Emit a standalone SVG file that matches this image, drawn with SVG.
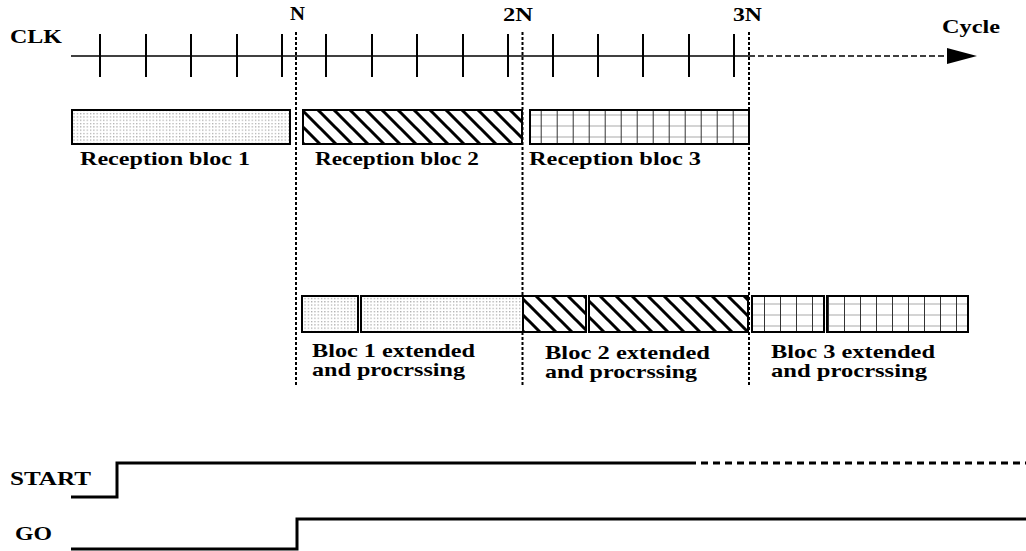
<svg xmlns="http://www.w3.org/2000/svg" width="1026" height="551" viewBox="0 0 1026 551">
<style>
text{font-family:"Liberation Serif","Times New Roman",serif;font-weight:bold;font-size:19px;fill:#000}
.box{stroke:#000;stroke-width:2}
.tick{stroke:#000;stroke-width:2}
.vdash{stroke:#000;stroke-width:2;stroke-dasharray:3 2;fill:none}
.sig{stroke:#000;stroke-width:3;fill:none}
</style>
<defs>
<pattern id="dots" patternUnits="userSpaceOnUse" width="3.3" height="3.3">
<rect width="3.3" height="3.3" fill="#fff"/>
<rect x="1" y="1" width="1" height="1" fill="#777"/>
</pattern>
<pattern id="hatch" patternUnits="userSpaceOnUse" width="16" height="16">
<rect width="16" height="16" fill="#fff"/>
<path d="M0,0L16,16M12,-4L20,4M-4,12L4,20" stroke="#000" stroke-width="3"/>
</pattern>
<pattern id="grid1" patternUnits="userSpaceOnUse" x="12.7" y="4" width="16" height="11">
<rect width="16" height="11" fill="#fff"/>
<path d="M0,1H16" stroke="#aaa" stroke-width="1"/>
<path d="M0.5,0V11" stroke="#333" stroke-width="1"/>
</pattern>
<pattern id="grid2" patternUnits="userSpaceOnUse" x="12" y="6" width="16" height="11">
<rect width="16" height="11" fill="#fff"/>
<path d="M0,1H16" stroke="#aaa" stroke-width="1"/>
<path d="M0.5,0V11" stroke="#333" stroke-width="1"/>
</pattern>
</defs>
<rect width="1026" height="551" fill="#fff"/>

<g id="connectors">
<line x1="71" y1="56" x2="749" y2="56" stroke="#000" stroke-width="1.5"/>
<line x1="749" y1="56" x2="948" y2="56" stroke="#000" stroke-width="1.5" stroke-dasharray="6 3"/>
<polygon points="947,48 977,56 947,64" fill="#000"/>
<g class="tick">
<line x1="100" y1="34" x2="100" y2="77"/>
<line x1="146" y1="34" x2="146" y2="77"/>
<line x1="191" y1="34" x2="191" y2="77"/>
<line x1="237" y1="34" x2="237" y2="77"/>
<line x1="282" y1="34" x2="282" y2="77"/>
<line x1="326" y1="34" x2="326" y2="77"/>
<line x1="372" y1="34" x2="372" y2="77"/>
<line x1="417" y1="34" x2="417" y2="77"/>
<line x1="463" y1="34" x2="463" y2="77"/>
<line x1="508" y1="34" x2="508" y2="77"/>
<line x1="553" y1="34" x2="553" y2="77"/>
<line x1="598" y1="34" x2="598" y2="77"/>
<line x1="643" y1="34" x2="643" y2="77"/>
<line x1="689" y1="34" x2="689" y2="77"/>
<line x1="734" y1="34" x2="734" y2="77"/>
</g>
<line class="vdash" x1="296" y1="32" x2="296" y2="386"/>
<line class="vdash" x1="522.5" y1="32" x2="522.5" y2="386"/>
<line class="vdash" x1="749" y1="32" x2="749" y2="386"/>
<path class="sig" d="M71,497H117V463H689"/>
<path class="sig" d="M689,463H1026" stroke-dasharray="7 5"/>
<path class="sig" d="M71,549H297V519H1026"/>
</g>

<g id="labels">
<text x="10" y="43" textLength="52" lengthAdjust="spacingAndGlyphs">CLK</text>
<text x="290" y="20" textLength="15" lengthAdjust="spacingAndGlyphs">N</text>
<text x="503" y="21" textLength="30" lengthAdjust="spacingAndGlyphs">2N</text>
<text x="733" y="21" textLength="29" lengthAdjust="spacingAndGlyphs">3N</text>
<text x="942" y="33" textLength="58" lengthAdjust="spacingAndGlyphs">Cycle</text>
<text x="10" y="485" textLength="81" lengthAdjust="spacingAndGlyphs">START</text>
<text x="15" y="540" textLength="37" lengthAdjust="spacingAndGlyphs">GO</text>
</g>

<g id="reception1">
<rect class="box" x="72" y="110" width="218" height="34" fill="url(#dots)"/>
<text x="80" y="165" textLength="170" lengthAdjust="spacingAndGlyphs">Reception bloc 1</text>
</g>
<g id="reception2">
<rect class="box" x="303" y="110" width="219" height="34" fill="url(#hatch)"/>
<text x="315" y="165" textLength="164" lengthAdjust="spacingAndGlyphs">Reception bloc 2</text>
</g>
<g id="reception3">
<rect class="box" x="530" y="110" width="219" height="34" fill="url(#grid1)"/>
<text x="529" y="165" textLength="172" lengthAdjust="spacingAndGlyphs">Reception bloc 3</text>
</g>

<g id="processing1">
<rect class="box" x="302" y="296" width="56" height="36" fill="url(#dots)"/>
<rect class="box" x="361" y="296" width="162" height="36" fill="url(#dots)"/>
<text x="312" y="357" textLength="163" lengthAdjust="spacingAndGlyphs">Bloc 1 extended</text>
<text x="312" y="376" textLength="153" lengthAdjust="spacingAndGlyphs">and procrssing</text>
</g>
<g id="processing2">
<rect class="box" x="523" y="296" width="63" height="36" fill="url(#hatch)"/>
<rect class="box" x="589" y="296" width="159" height="36" fill="url(#hatch)"/>
<text x="545" y="359" textLength="165" lengthAdjust="spacingAndGlyphs">Bloc 2 extended</text>
<text x="545" y="378" textLength="152" lengthAdjust="spacingAndGlyphs">and procrssing</text>
</g>
<g id="processing3">
<rect class="box" x="752" y="296" width="72" height="36" fill="url(#grid2)"/>
<rect class="box" x="827" y="296" width="141" height="36" fill="url(#grid2)"/>
<text x="771" y="358" textLength="164" lengthAdjust="spacingAndGlyphs">Bloc 3 extended</text>
<text x="771" y="377" textLength="156" lengthAdjust="spacingAndGlyphs">and procrssing</text>
</g>
</svg>
